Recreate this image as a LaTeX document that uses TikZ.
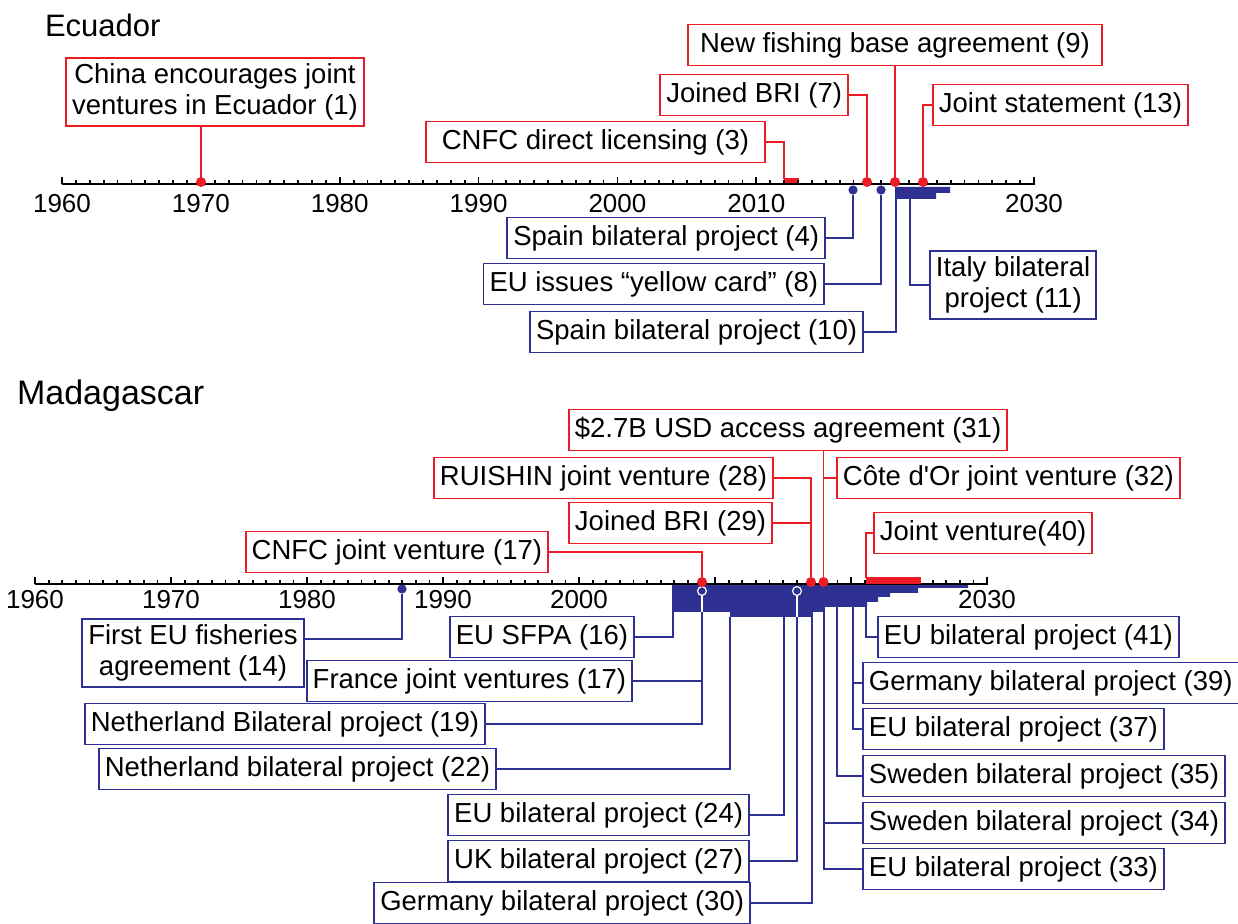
\documentclass[tikz,border=0pt]{standalone}
\usepackage{fontspec}
\setmainfont{Liberation Sans}
\definecolor{evred}{HTML}{ED1C24}
\definecolor{evblue}{HTML}{2E3192}

\begin{document}
\begin{tikzpicture}[x=0.5pt,y=-0.5pt,
every node/.style={font=\fontsize{13.75}{15.5}\selectfont},
redbox/.style={draw=evred,fill=white,line width=0.95pt,inner xsep=3pt,inner ysep=3pt,minimum height=20.5pt,align=center},
bluebox/.style={redbox,draw=evblue},
redline/.style={draw=evred,line width=0.95pt},
blueline/.style={draw=evblue,line width=0.95pt},
rdot/.style={circle,fill=evred,inner sep=0pt,minimum size=5pt},
bdot/.style={circle,fill=evblue,inner sep=0pt,minimum size=4.6pt},
odot/.style={circle,draw=white,fill=evblue,line width=0.6pt,inner sep=0pt,minimum size=4.4pt},
yearlbl/.style={anchor=base,font=\fontsize{13}{15}\selectfont},
title/.style={anchor=base west,font=\fontsize{17}{20}\selectfont}]
\useasboundingbox[fill=white] (0,0) rectangle (1238,924);

% Ecuador
\node[title,font=\fontsize{15.5}{18}\selectfont] (ttlE) at (38,37) {Ecuador};
\fill[evblue] (895,187) rectangle (950,193) (895,193) rectangle (936,199);
\fill[evred] (784,178.5) rectangle (799,184);
\draw[line width=1.3pt] (62,184) -- (1035,184);
\foreach \i in {0,...,70} \draw[line width=0.9pt] ({62+13.886*\i},184) -- ++(0,-3.5);
\foreach \i in {0,10,...,70} \draw[line width=0.9pt] ({62+13.886*\i},184) -- ++(0,-7);
\foreach \yr in {1960,1970,1980,1990,2000,2010,2030}
  \node[yearlbl] (yE\yr) at ({62+13.886*(\yr-1960)},213) {\yr};

\node[rdot] (d1) at (201,182) {};
\coordinate (b3) at (784,179);
\node[rdot] (d7) at (867,182) {};
\node[rdot] (d9) at (895,182) {};
\node[rdot] (d13) at (923,182) {};
\node[bdot] (d4) at (853,190) {};
\node[bdot] (d8) at (881,190) {};
\coordinate (c10) at (896,199);
\coordinate (c11) at (910,199);

\node[redbox] (e1) at (215,92) {China encourages joint\\ventures in Ecuador (1)};
\node[redbox,anchor=east,inner xsep=8pt] (e3) at (766,142) {CNFC direct licensing (3)};
\node[redbox,anchor=east] (e7) at (849,95) {Joined BRI (7)};
\node[redbox,inner xsep=6pt] (e9) at (895,45) {New fishing base agreement (9)};
\node[redbox,anchor=west] (e13) at (932,105) {Joint statement (13)};
\node[bluebox,anchor=east] (e4) at (826,238) {Spain bilateral project (4)};
\node[bluebox,anchor=east] (e8) at (825,284) {EU issues “yellow card” (8)};
\node[bluebox,anchor=east] (e10) at (864,332) {Spain bilateral project (10)};
\node[bluebox,anchor=west] (e11) at (929,285) {Italy bilateral\\project (11)};

\draw[redline] (e1.south -| d1) -- (d1);
\draw[redline] (e3.east) -| (b3);
\draw[redline] (e7.east) -| (d7);
\draw[redline] (e9.south -| d9) -- (d9);
\draw[redline] (e13.west) -| (d13);
\draw[blueline] (e4.east) -| (d4);
\draw[blueline] (e8.east) -| (d8);
\draw[blueline] (e10.east) -| (c10);
\draw[blueline] (e11.west) -| (c11);

% Madagascar
\node[title] (ttlM) at (10,405) {Madagascar};
\coordinate (c16) at (673,612);
\coordinate (c17) at (702,595);
\coordinate (c22) at (730,617);
\coordinate (c24) at (784,617);
\coordinate (c27) at (797,595);
\coordinate (c30) at (812,612);
\coordinate (c33) at (824,607);
\coordinate (c35) at (837,607);
\coordinate (c37) at (853,607);
\coordinate (c41) at (866,602);
\coordinate (k14) at (402,639);
\coordinate (b40) at (866,578);

\node[bluebox] (m14) at (193,653) {First EU fisheries\\agreement (14)};
\node[bluebox,anchor=east] (m16) at (635,637) {EU SFPA (16)};
\node[bluebox,anchor=east] (m17f) at (633,681) {France joint ventures (17)};
\node[bluebox,anchor=east] (m19) at (486,724) {Netherland Bilateral project (19)};
\node[bluebox,anchor=east] (m22) at (497,769) {Netherland bilateral project (22)};
\node[bluebox,anchor=east] (m24) at (750,815) {EU bilateral project (24)};
\node[bluebox,anchor=east] (m27) at (750,861) {UK bilateral project (27)};
\node[bluebox,anchor=east] (m30) at (751,903) {Germany bilateral project (30)};
\node[bluebox,anchor=west] (m41) at (877,637) {EU bilateral project (41)};
\node[bluebox,anchor=west] (m39) at (862,683) {Germany bilateral project (39)};
\node[bluebox,anchor=west] (m37) at (862,729) {EU bilateral project (37)};
\node[bluebox,anchor=west] (m35) at (862,776) {Sweden bilateral project (35)};
\node[bluebox,anchor=west] (m34) at (862,823) {Sweden bilateral project (34)};
\node[bluebox,anchor=west] (m33) at (862,869) {EU bilateral project (33)};

\draw[blueline] (m16.east) -| (c16);
\draw[blueline] (m17f.east) -| (c17);
\draw[blueline] (m19.east) -| (c17);
\draw[blueline] (m22.east) -| (c22);
\draw[blueline] (m24.east) -| (c24);
\draw[blueline] (m27.east) -| (c27);
\draw[blueline] (m30.east) -| (c30);
\draw[blueline] (m33.west) -| (c33);
\draw[blueline] (m34.west) -| (c33);
\draw[blueline] (m35.west) -| (c35);
\draw[blueline] (m37.west) -| (c37);
\draw[blueline] (m39.west) -| (c37);
\draw[blueline] (m41.west) -| (c41);

\fill[evblue] (672,585) -- (968,585) -- (968,588) -- (918,588) -- (918,593) -- (890,593)
  -- (890,597) -- (878,597) -- (878,602) -- (867,602) -- (867,607) -- (823,607) -- (823,612)
  -- (812,612) -- (812,617) -- (730,617) -- (730,612) -- (672,612) -- cycle;
\draw[white,line width=0.9pt] (c17) -- (702,612) (c27) -- (797,617);
\node[odot] (o17) at (702,591) {};
\node[odot] (o27) at (797,591) {};

\draw[line width=1.3pt] (35,584) -- (988,584);
\foreach \i in {0,...,70} \draw[line width=0.9pt] ({35+13.6*\i},584) -- ++(0,-3.5);
\foreach \i in {0,10,...,70} \draw[line width=0.9pt] ({35+13.6*\i},584) -- ++(0,-7);
\foreach \yr in {1960,1970,1980,1990,2000,2030}
  \node[yearlbl] (yM\yr) at ({35+13.6*(\yr-1960)},609) {\yr};
\fill[evred] (866,577) rectangle (921,584);

\node[rdot] (d17) at (702,582) {};
\node[rdot] (d28) at (811,582) {};
\node[rdot] (d31) at (823.5,582) {};
\node[bdot] (d14) at (402,589) {};

\node[redbox] (m31) at (788,430) {\$2.7B USD access agreement (31)};
\node[redbox,anchor=east] (m28) at (774,478) {RUISHIN joint venture (28)};
\node[redbox,anchor=east] (m29) at (773,523) {Joined BRI (29)};
\node[redbox,anchor=west] (m32) at (836,478) {Côte d\textquotesingle Or joint venture (32)};
\node[redbox,anchor=west] (m40) at (873,533) {Joint venture(40)};
\node[redbox,anchor=east] (m17c) at (549,552) {CNFC joint venture (17)};

\draw[redline] (m31.south -| d31) -- (d31);
\draw[redline] (m32.west) -| (d31);
\draw[redline] (m28.east) -| (d28);
\draw[redline] (m29.east) -| (d28);
\draw[redline] (m40.west) -| (b40);
\draw[redline] (m17c.east) -| (d17);
\draw[blueline] (d14) |- (k14) -- (k14 -| m14.east);
\end{tikzpicture}
\end{document}
